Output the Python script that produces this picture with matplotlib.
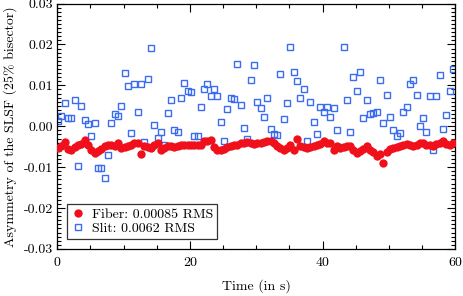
import numpy as np
import matplotlib
matplotlib.use("Agg")
import matplotlib.pyplot as plt
from matplotlib.ticker import MultipleLocator, FuncFormatter

# sampling grid: one frame every 0.5 s
time_s = np.arange(120) * 0.5 + 0.15

# asymmetry of the SLSF at 25% of the bisector, fiber-fed
fiber = [
    -0.0053, -0.0048, -0.0039, -0.0055, -0.0057, -0.0050, -0.0047, -0.0044, -0.0034, -0.0047,
    -0.0057, -0.0065, -0.0061, -0.0055, -0.0049, -0.0045, -0.0047, -0.0048, -0.0042, -0.0053,
    -0.0050, -0.0048, -0.0045, -0.0042, -0.0040, -0.0069, -0.0049, -0.0051, -0.0053, -0.0045,
    -0.0042, -0.0057, -0.0052, -0.0049, -0.0049, -0.0050, -0.0048, -0.0045, -0.0047, -0.0046,
    -0.0047, -0.0045, -0.0046, -0.0047, -0.0037, -0.0036, -0.0034, -0.0050, -0.0057, -0.0058,
    -0.0055, -0.0050, -0.0048, -0.0047, -0.0045, -0.0042, -0.0040, -0.0039, -0.0041, -0.0043,
    -0.0041, -0.0040, -0.0039, -0.0037, -0.0036, -0.0040, -0.0049, -0.0053, -0.0059, -0.0053,
    -0.0047, -0.0057, -0.0032, -0.0049, -0.0051, -0.0053, -0.0050, -0.0048, -0.0045, -0.0043,
    -0.0037, -0.0042, -0.0040, -0.0057, -0.0049, -0.0053, -0.0051, -0.0049, -0.0049, -0.0058,
    -0.0065, -0.0061, -0.0055, -0.0049, -0.0057, -0.0062, -0.0073, -0.0068, -0.0090, -0.0063,
    -0.0055, -0.0053, -0.0050, -0.0048, -0.0046, -0.0043, -0.0046, -0.0048, -0.0045, -0.0042,
    -0.0040, -0.0045, -0.0047, -0.0049, -0.0043, -0.0041, -0.0037, -0.0044, -0.0045, -0.0042,
]

# same quantity, slit-fed
slit = [
    0.0012, 0.0026, 0.0057, 0.0021, 0.0020, 0.0065, -0.0098, 0.0049, 0.0016, 0.0005,
    -0.0024, 0.0008, -0.0101, -0.0101, -0.0127, -0.0071, 0.0008, 0.0031, 0.0024, 0.0050,
    0.0130, 0.0098, -0.0017, 0.0103, 0.0034, 0.0104, -0.0038, 0.0116, 0.0191, 0.0002,
    -0.0028, -0.0015, -0.0045, 0.0032, 0.0063, -0.0008, -0.0015, 0.0070, 0.0106, 0.0087,
    0.0083, -0.0024, -0.0023, 0.0046, 0.0091, 0.0103, 0.0073, 0.0091, 0.0073, 0.0010,
    -0.0035, 0.0043, 0.0069, 0.0067, 0.0153, 0.0053, -0.0004, -0.0031, 0.0112, 0.0149,
    0.0059, 0.0044, 0.0022, 0.0068, -0.0006, -0.0019, -0.0022, 0.0127, 0.0018, 0.0057,
    0.0194, 0.0132, 0.0111, 0.0068, 0.0090, -0.0037, 0.0059, 0.0011, -0.0020, 0.0047,
    0.0034, 0.0046, 0.0023, 0.0044, -0.0008, -0.0050, 0.0194, 0.0063, -0.0015, 0.0120,
    0.0087, 0.0133, 0.0020, 0.0063, 0.0029, 0.0033, 0.0034, 0.0112, 0.0007, 0.0076,
    0.0022, -0.0008, -0.0024, -0.0016, 0.0036, 0.0047, 0.0104, 0.0112, 0.0077, 0.0001,
    0.0021, -0.0013, 0.0073, -0.0057, 0.0073, 0.0125, -0.0006, 0.0027, 0.0085, 0.0141,
]

legend_labels = ["Fiber: 0.00085 RMS", "Slit: 0.0062 RMS"]

plt.rcParams["font.family"] = "serif"
plt.rcParams["font.serif"] = ["cmr10", "DejaVu Serif"]
plt.rcParams["axes.unicode_minus"] = False
plt.rcParams["font.size"] = 10

fig = plt.figure(figsize=(4.63, 2.96), dpi=100)
ax = fig.add_axes([0.1235, 0.159, 0.86, 0.829])

# slit squares underneath, fiber dots drawn on top
sl, = ax.plot(time_s, slit, linestyle="none", marker="s", markersize=5,
              markerfacecolor="none", markeredgecolor="#3a6cf2",
              markeredgewidth=1.0, zorder=2)
fb, = ax.plot(time_s, fiber, linestyle="none", marker="o", markersize=6,
              color="#f0101c", markeredgewidth=0, zorder=3)

ax.set_xlim(0, 60)
ax.set_ylim(-0.03, 0.03)

ax.xaxis.set_major_locator(MultipleLocator(20))
ax.xaxis.set_minor_locator(MultipleLocator(5))
ax.yaxis.set_major_locator(MultipleLocator(0.01))
ax.yaxis.set_minor_locator(MultipleLocator(0.001))
ax.yaxis.set_major_formatter(FuncFormatter(lambda v, p: "%.2f" % v if abs(v) > 1e-9 else "0.00"))

ax.tick_params(which="both", direction="in", top=True, right=True, width=0.8)
ax.tick_params(which="major", length=6, labelsize=10)
ax.tick_params(axis="x", which="major", pad=6)
ax.tick_params(axis="y", which="major", pad=3)
ax.tick_params(which="minor", length=3)
for s in ax.spines.values():
    s.set_linewidth(0.9)

ax.set_xlabel("Time (in s)", fontsize=10, labelpad=7)
ax.set_ylabel("Asymmetry of the SLSF (25% bisector)", fontsize=10, labelpad=5)

leg = ax.legend([fb, sl], legend_labels, loc="lower left", fontsize=10,
                fancybox=False, framealpha=1, edgecolor="#333333",
                handlelength=1.0, handletextpad=0.5, borderpad=0.3,
                labelspacing=0.1, borderaxespad=0.7)
leg.get_frame().set_linewidth(0.9)

fig.savefig("out.png", dpi=100)
